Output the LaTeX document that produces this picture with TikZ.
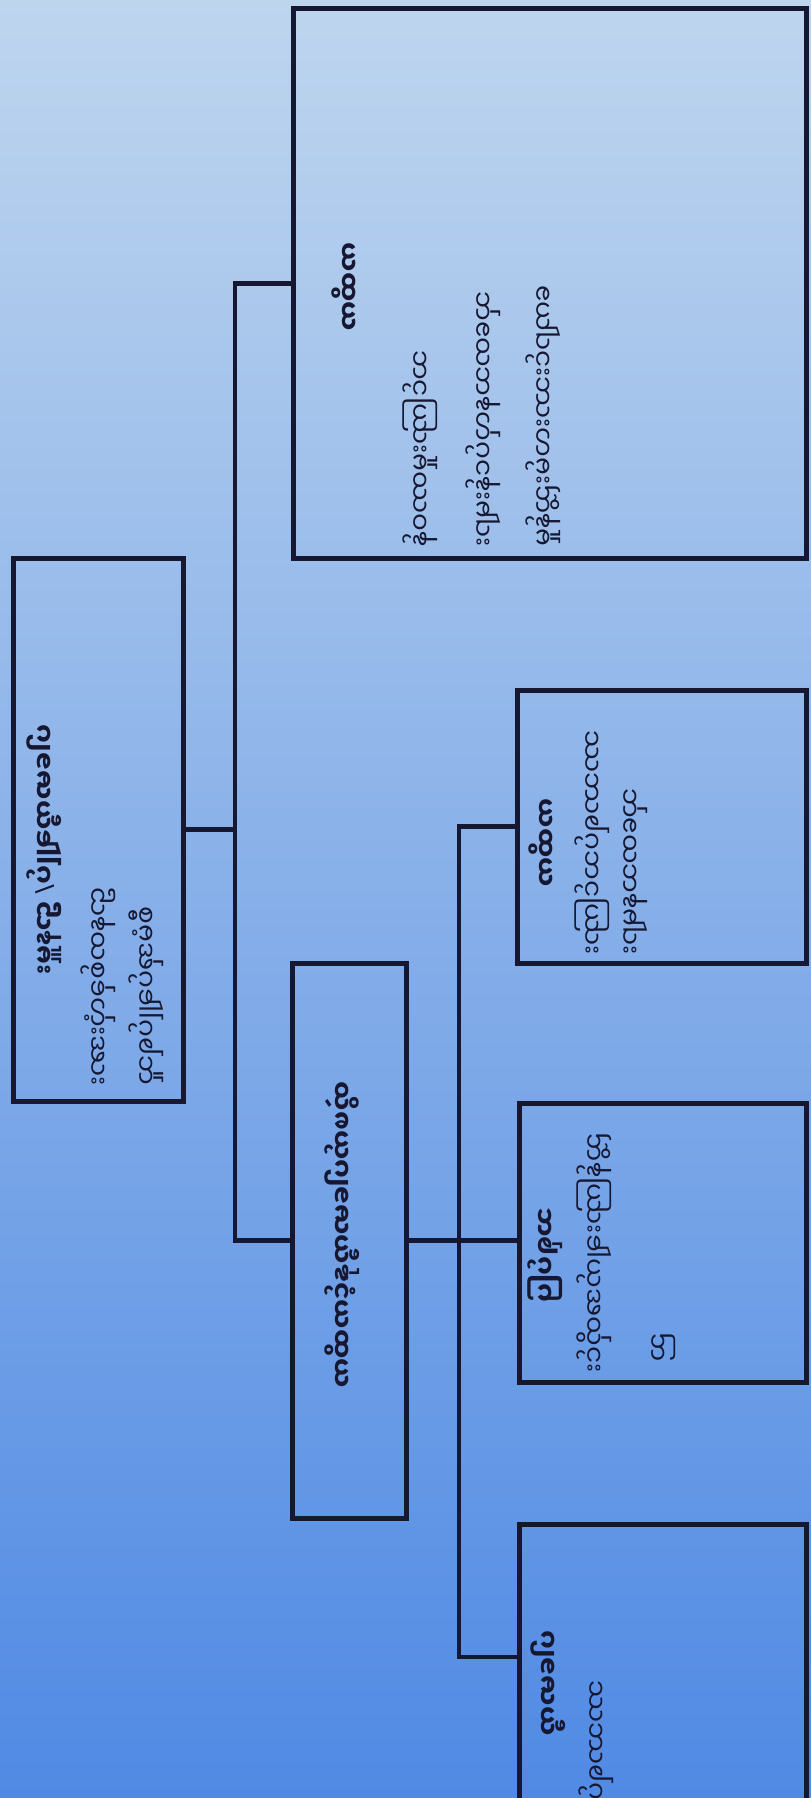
\documentclass[tikz,border=0pt]{standalone}
\usepackage{fontspec}
\newfontfamily\mya[Script=Myanmar]{Noto Sans Myanmar UI}
\newfontfamily\latn{Noto Sans}
\usetikzlibrary{positioning}
\definecolor{ink}{RGB}{22,24,50}
\definecolor{skytop}{RGB}{190,213,238}
\definecolor{skymid}{RGB}{140,188,243}
\definecolor{skybot}{RGB}{80,138,228}

\begin{document}
\begin{tikzpicture}[
    box/.style={
        draw=ink,
        line width=1.3pt,
        anchor=north west,
        inner sep=0pt
    },
    link/.style={draw=ink, line width=1.4pt, line cap=rect},
    lbl/.style={font=\mya\fontsize{7.5}{9}\selectfont, text=ink, inner sep=0pt,
        cm={0,-1,-1,0,(0,0)}, transform shape, anchor=east},
    head/.style={lbl, font=\mya\fontsize{7.5}{9}\selectfont\bfseries, anchor=center}
]
    \useasboundingbox (0,0) rectangle (8.11,-17.98);
    \clip (0,0) rectangle (8.11,-17.98);
    \shade[top color=skytop, middle color=skymid, bottom color=skybot] (0,0) rectangle (8.11,-17.98);

    % Boxes
    \node[box, minimum width=1.70cm, minimum height=5.43cm] (root) at (0.11,-5.56) {};
    \node[box, minimum width=5.13cm, minimum height=5.50cm] (unitB) at (2.91,-0.06) {};
    \node[box, minimum width=1.14cm, minimum height=5.55cm] (unitC) at (2.90,-9.61) {};
    \node[box, minimum width=2.89cm, minimum height=2.73cm] (unitD) at (5.15,-6.88) {};
    \node[box, minimum width=2.87cm, minimum height=2.79cm] (unitE) at (5.17,-11.01) {};
    \node[box, minimum width=2.87cm, minimum height=3.10cm] (unitF) at (5.17,-15.22) {};

    % Connectors
    \coordinate (trunkA) at (2.35,0);
    \coordinate (trunkB) at (4.59,0);
    \coordinate (joinF) at (5.17,-16.57);
    \draw[link] (root.east) -- (root.east -| trunkA);
    \draw[link] (unitB.west) -| (trunkA |- unitC.west) -- (unitC.west);
    \draw[link] (unitC.east) -- (unitC.east -| unitE.west);
    \draw[link] (unitD.west) -| (trunkB |- joinF) -- (joinF);

    % Labels (set transposed, as in the photo)
    \node[head] (rootT) at (0.44,-8.50) {ပါမောက္ခချုပ်{\latn/} ဌာနမှူး};
    \node[lbl] (rootA) at (0.98,-10.86) {ဌာနတစ်ခုလုံးအား};
    \node[lbl] (rootB) at (1.46,-10.86) {စီမံအုပ်ချုပ်ရသူ};

    \node[head] (unitBT) at (3.46,-2.87) {ကထိက};
    \node[lbl] (unitBa) at (4.20,-5.47) {သင်ကြားမှုတာဝန်};
    \node[lbl] (unitBb) at (4.83,-5.47) {သုတေသနလုပ်ငန်းများ};
    \node[lbl] (unitBc) at (5.43,-5.47) {ကျောင်းသားလမ်းညွှန်မှု};

    \node[head] (unitCT) at (3.42,-12.35) {တွဲဖက်ပါမောက္ခနှင့်ကထိက};

    \node[head] (unitDT) at (5.43,-8.43) {ကထိက};
    \node[lbl] (unitDa) at (5.92,-9.55) {ဘာသာရပ်သင်ကြား};
    \node[lbl] (unitDb) at (6.36,-9.55) {သုတေသနများ};

    \node[head] (unitET) at (5.45,-12.55) {သရုပ်ပြ};
    \node[lbl] (unitEa) at (5.94,-13.73) {ညွှန်ကြားချက်အတိုင်း};
    \node[lbl] (unitEb) at (6.64,-13.62) {ည};

    \node[head] (unitFT) at (5.48,-16.83) {ပါမောက္ခ};
    \node[lbl, anchor=west] (unitFa) at (5.96,-16.80) {ဘာသာရပ်ဆိုင်ရာ};
\end{tikzpicture}
\end{document}
